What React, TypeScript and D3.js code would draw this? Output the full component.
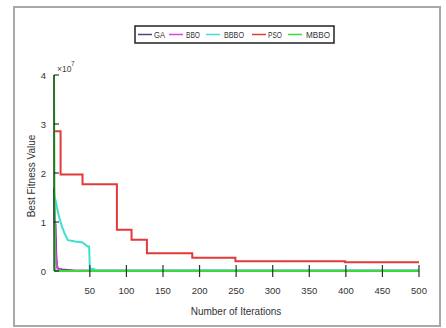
import React from "react";
import * as d3 from "d3";

const W = 446, H = 328;

// Data (values in units of 1e7)
const gaIter = [1, 2, 3, 4, 5, 6, 8, 12, 20, 30, 500];
const gaVal = [1.7, 1.0, 0.95, 0.35, 0.12, 0.06, 0.04, 0.03, 0.02, 0.005, 0.005];
const bboIter = [1, 2, 3, 4, 6, 10, 500];
const bboVal = [1.2, 0.8, 0.45, 0.15, 0.05, 0.01, 0.005];
const bbboIter = [1, 3, 5, 8, 12, 16, 20, 30, 40, 47, 49, 50, 55, 60, 500];
const bbboVal = [1.55, 1.45, 1.3, 1.1, 0.9, 0.75, 0.63, 0.6, 0.58, 0.5, 0.5, 0.05, 0.04, 0.01, 0.01];
const psoIter = [1, 10, 40, 87, 107, 128, 190, 249, 399, 500];
const psoVal = [2.85, 1.97, 1.77, 0.84, 0.64, 0.36, 0.27, 0.2, 0.18, 0.18];
const mbboIter = [1, 2, 3, 500];
const mbboVal = [4.0, 0.08, 0.0, 0.0];

const xTicks = [50, 100, 150, 200, 250, 300, 350, 400, 450, 500];
const yTicks = [0, 1, 2, 3, 4];
const legendNames = ["GA", "BBO", "BBBO", "PSO", "MBBO"];
const colors = ["#5b3f86", "#e044e0", "#3fdfd0", "#e23a3a", "#3cd83c"];

export default function App() {
  const x = d3.scaleLinear().domain([1, 500]).range([54, 419]);
  const y = d3.scaleLinear().domain([0, 4]).range([271, 75]);
  const lin = d3.line<[number, number]>().x(d => x(d[0])).y(d => y(d[1]));
  const step = d3.line<[number, number]>().x(d => x(d[0])).y(d => y(d[1])).curve(d3.curveStepAfter);
  const zip = (a: number[], b: number[]) => a.map((v, i) => [v, b[i]] as [number, number]);
  const series = [
    { d: lin(zip(gaIter, gaVal)), c: colors[0] },
    { d: lin(zip(bboIter, bboVal)), c: colors[1] },
    { d: lin(zip(bbboIter, bbboVal)), c: colors[2] },
    { d: step(zip(psoIter, psoVal)), c: colors[3] },
    { d: lin(zip(mbboIter, mbboVal)), c: colors[4] },
  ];
  const font = "'Liberation Sans', Arial, sans-serif";
  const legX = [138, 169, 206, 252, 288];
  const legTX = [154, 186, 224, 268, 306];
  const legTW = [11, 14, 20, 14, 24];
  return (
    <svg width={W} height={H} style={{ position: "absolute", left: 0, top: 0, background: "#fff" }}>
      <rect x={0} y={0} width={W} height={H} fill="#fff" />
      <rect x={14} y={7} width={426} height={319} fill="none" stroke="#a8a8a8" strokeWidth={2} />
      {series.map((s, i) => (
        <path key={i} d={s.d || ""} fill="none" stroke={s.c} strokeWidth={2} />
      ))}
      {/* axes */}
      <line x1={54} y1={75} x2={54} y2={271} stroke="#111" strokeWidth={1} />
      {yTicks.map(t => (
        <g key={t}>
          <line x1={54} x2={59} y1={y(t)} y2={y(t)} stroke="#111" />
          <text x={46} y={y(t) + 3.5} fontSize={9.5} fontFamily={font} textAnchor="end" fill="#333">{t}</text>
        </g>
      ))}
      {xTicks.map(t => (
        <g key={t}>
          <line x1={x(t)} x2={x(t)} y1={265} y2={277} stroke="#1d3d1d" strokeWidth={1.2} />
          <text x={x(t)} y={294} fontSize={9.5} fontFamily={font} textAnchor="middle" fill="#333">{t}</text>
        </g>
      ))}
      <text x={57} y={72} fontSize={8.5} fontFamily={font} fill="#444">×10</text>
      <text x={71} y={66} fontSize={6.5} fontFamily={font} fill="#444">7</text>
      <text x={236} y={315} fontSize={10} fontFamily={font} textAnchor="middle" fill="#333">Number of Iterations</text>
      <text transform="translate(35,176) rotate(-90)" fontSize={10} fontFamily={font} textAnchor="middle" fill="#333">Best Fitness Value</text>
      {/* legend */}
      <rect x={135} y={26} width={199} height={17} fill="#fff" stroke="#222" strokeWidth={1.5} />
      {legendNames.map((n, i) => (
        <g key={n}>
          <line x1={legX[i]} x2={legX[i] + 14} y1={34.5} y2={34.5} stroke={colors[i]} strokeWidth={1.5} />
          <text x={legTX[i]} y={38} fontSize={8.5} fontFamily={font} fill="#333" textLength={legTW[i]} lengthAdjust="spacingAndGlyphs">{n}</text>
        </g>
      ))}
    </svg>
  );
}
